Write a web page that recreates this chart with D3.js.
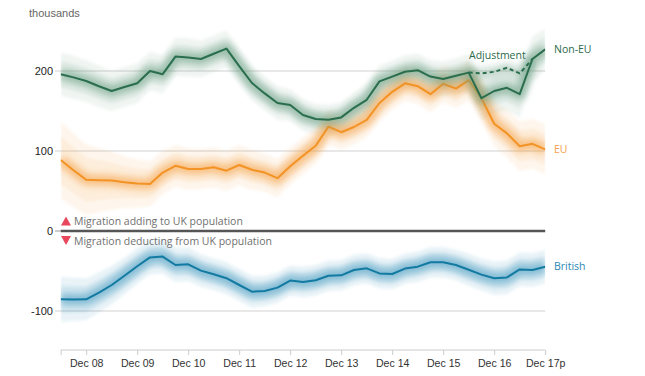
<!DOCTYPE html>
<html><head><meta charset="utf-8">
<script src="https://cdn.jsdelivr.net/npm/d3@7"></script>
<style>body{margin:0;background:#fff}svg{display:block}</style>
</head><body>
<svg id="chart" width="645" height="376"></svg>
<script>
// ---- data ----
const quarters = ["Jun 08","Sep 08","Dec 08","Mar 09","Jun 09","Sep 09","Dec 09","Mar 10","Jun 10","Sep 10","Dec 10","Mar 11","Jun 11","Sep 11","Dec 11","Mar 12","Jun 12","Sep 12","Dec 12","Mar 13","Jun 13","Sep 13","Dec 13","Mar 14","Jun 14","Sep 14","Dec 14","Mar 15","Jun 15","Sep 15","Dec 15","Mar 16","Jun 16","Sep 16","Dec 16","Mar 17","Jun 17","Sep 17","Dec 17"];
const nonEU = [196,192,187.5,181,175,180,184.6,200,196,218,217,215,221.5,228,206,185,172,160,157.5,145,140,139,142,154,164,187,193,199,201,193,190,194,198,166,175,179,171,215,227];
const nonEUAdjusted = [null,null,null,null,null,null,null,null,null,null,null,null,null,null,null,null,null,null,null,null,null,null,null,null,null,null,null,null,null,null,null,null,198,197,199,204,197,215,null];
const EU = [88.75,76,64,63.5,63,61,59.5,58.75,73,81.5,77.5,77.5,79.6,75.4,82.5,76.5,73,66,81,94,106.5,130.5,123.5,130,139,160,174,184.6,181,171,184,178,188.5,166,134,122,106,109,102];
const british = [-85.4,-85.5,-85.4,-77,-67.5,-56,-44,-33,-32,-42.5,-41.7,-49.5,-54,-59,-67.5,-75.8,-75,-70.8,-62,-63.7,-61.5,-56,-55.4,-48.75,-46.7,-53,-53.75,-47,-44.6,-39,-39,-42.5,-48.5,-54.5,-59,-58,-48,-48.75,-44.6];
const nonEUci = [27,27,26,26,25,25,25,24,24,24,24,23,23,23,22,22,21,21,20,20,19,19,19,19,20,20,20,21,21,21,22,22,24,27,28,28,29,28,26];
const EUci = [48,46,44,40,36,32,30,28,27,26,26,25,25,25,25,25,24,24,23,23,22,22,22,22,22,22,22,22,22,23,23,24,25,26,28,30,31,31,31];
const britishCI = [28,27,26,25,24,23,22,21,21,21,21,20,20,20,20,20,19,19,19,19,19,19,19,19,19,19,19,19,19,19,19,19,20,20,21,21,21,21,21];
const yTicks = [200,100,0,-100];
const xTickQuarters = ["Jun 08","Dec 08","Dec 09","Dec 10","Dec 11","Dec 12","Dec 13","Dec 14","Dec 15","Dec 16","Dec 17"];
const xTickLabels = ["","Dec 08","Dec 09","Dec 10","Dec 11","Dec 12","Dec 13","Dec 14","Dec 15","Dec 16","Dec 17p"];

// ---- layout ----
const X0 = 60.7, X1 = 545.2;
const svg = d3.select("#chart");
const x = d3.scalePoint().domain(quarters).range([X0, X1]);
const y = d3.scaleLinear().domain([-100, 200]).range([311, 71]);
const AXIS_Y = 350;
const sans = "'Liberation Sans', Arial, sans-serif";
const open = "'Open Sans', sans-serif";

const defs = svg.append("defs");
defs.append("filter").attr("id","glow")
  .attr("x","-5%").attr("y","-60%").attr("width","110%").attr("height","220%")
  .append("feGaussianBlur").attr("stdDeviation", 3.6);
defs.append("filter").attr("id","soft")
  .attr("x","-5%").attr("y","-30%").attr("width","110%").attr("height","160%")
  .append("feGaussianBlur").attr("stdDeviation", 1.4);
defs.append("clipPath").attr("id","plotclip").append("rect")
  .attr("x", X0).attr("y", 0).attr("width", X1 - X0).attr("height", 376);

// gridlines
svg.append("g").selectAll("line").data(yTicks.filter(d => d !== 0)).join("line")
  .attr("x1", 55).attr("x2", X1).attr("y1", d => y(d)).attr("y2", d => y(d))
  .attr("stroke", "#d2d2d2").attr("stroke-width", 1.2);
svg.append("line").attr("x1", 55).attr("x2", X0).attr("y1", y(0)).attr("y2", y(0))
  .attr("stroke", "#999").attr("stroke-width", 1);

// y labels
svg.append("g").selectAll("text").data(yTicks).join("text")
  .attr("x", 53).attr("y", d => y(d)).attr("dy", "0.36em")
  .attr("text-anchor", "end").attr("font-family", sans).attr("font-size", 11)
  .attr("fill", "#222").text(d => d);

svg.append("text").attr("x", 29).attr("y", 17).attr("font-family", sans)
  .attr("font-size", 11).attr("fill", "#666").text("thousands");

// x axis
const xAxis = d3.axisBottom(x).tickValues(xTickQuarters).tickSize(5).tickPadding(4)
  .tickFormat((d, i) => xTickLabels[i]);
const gx = svg.append("g").attr("transform", `translate(0,${AXIS_Y})`).call(xAxis);
gx.select(".domain").attr("stroke", "#ccc").attr("d", `M${X0},0H${X1}`);
gx.selectAll(".tick line").attr("stroke", "#ccc");
gx.selectAll(".tick text").attr("font-family", sans).attr("font-size", 10.6).attr("fill", "#333");

// series
const series = [
  {key: "EU", values: EU, ci: EUci, line: "#f39325", glow: "#f5a24a", label: "#f6a04b", op: [0.10, 0.10]},
  {key: "Non-EU", values: nonEU, ci: nonEUci, line: "#2a6e4e", glow: "#6a9f84", label: "#2d6a4c", op: [0.10, 0.10]},
  {key: "British", values: british, ci: britishCI, line: "#137aa2", glow: "#4a9cc0", label: "#2a88b3", op: [0.12, 0.12]}
];

const plot = svg.append("g").attr("clip-path", "url(#plotclip)");
series.forEach(s => {
  const pts = quarters.map((q, i) => ({q, v: s.values[i], c: s.ci[i]}));
  [1.0, 0.62].forEach((f, k) => {
    plot.append("path").datum(pts)
      .attr("d", d3.area().x(d => x(d.q)).y0(d => y(d.v - d.c * f)).y1(d => y(d.v + d.c * f)))
      .attr("fill", s.glow).attr("opacity", s.op[k]).attr("filter", "url(#soft)");
  });
});
series.forEach(s => {
  const pts = quarters.map((q, i) => ({q, v: s.values[i]}));
  const ln = d3.line().x(d => x(d.q)).y(d => y(d.v));
  plot.append("path").datum(pts).attr("d", ln).attr("fill", "none")
    .attr("stroke", s.glow).attr("stroke-width", 11).attr("opacity", 0.6)
    .attr("stroke-linejoin", "round").attr("filter", "url(#glow)");
  if (s.key === "Non-EU") {
    const adj = quarters.map((q, i) => ({q, v: nonEUAdjusted[i]})).filter(d => d.v !== null);
    plot.append("path").datum(adj).attr("d", ln).attr("fill", "none")
      .attr("stroke", s.glow).attr("stroke-width", 10).attr("opacity", 0.35)
      .attr("filter", "url(#glow)");
    plot.append("path").datum(adj).attr("d", ln).attr("fill", "none")
      .attr("stroke", s.line).attr("stroke-width", 2).attr("stroke-dasharray", "4,3");
  }
  plot.append("path").datum(pts).attr("d", ln).attr("fill", "none")
    .attr("stroke", s.line).attr("stroke-width", 2).attr("stroke-linejoin", "round");
  svg.append("text").attr("x", 554).attr("y", y(s.values[s.values.length - 1]))
    .attr("dy", "0.35em").attr("font-family", open).attr("font-size", 10.5)
    .attr("fill", s.label).text(s.key);
});

svg.append("text").attr("x", 469).attr("y", 59).attr("font-family", open)
  .attr("font-size", 10.5).attr("fill", "#2d6a4c").text("Adjustment");

// zero line
svg.append("line").attr("x1", X0).attr("x2", X1).attr("y1", y(0)).attr("y2", y(0))
  .attr("stroke", "#555").attr("stroke-width", 2.6);

// direction notes
const tri = svg.append("g");
tri.append("path").attr("d", "M61,225.5L66,216.5L71,225.5Z").attr("fill", "#e8475c");
tri.append("path").attr("d", "M61,236L71,236L66,245Z").attr("fill", "#e8475c");
svg.append("text").attr("x", 74).attr("y", 225).attr("font-family", open)
  .attr("font-size", 10.5).attr("fill", "#707070").text("Migration adding to UK population");
svg.append("text").attr("x", 74).attr("y", 245).attr("font-family", open)
  .attr("font-size", 10.5).attr("fill", "#707070").text("Migration deducting from UK population");
</script>
</body></html>
